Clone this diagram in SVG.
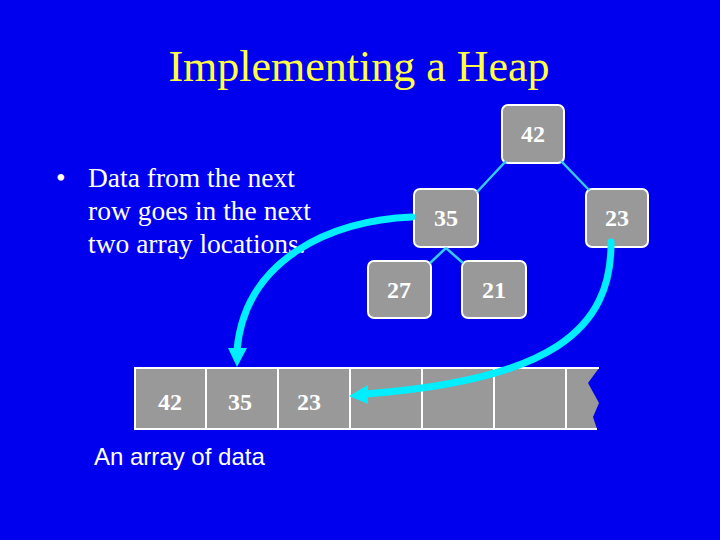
<svg xmlns="http://www.w3.org/2000/svg" width="720" height="540" viewBox="0 0 720 540">
<defs>
<style>
.node rect{fill:#999999;stroke:#ffffff;stroke-width:2}
.val{font-family:"Liberation Serif","Times New Roman",serif;font-size:24px;font-weight:bold;fill:#ffffff;text-anchor:middle}
.edge{stroke:#33ccee;stroke-width:2.5;fill:none}
.arrow{stroke:#00eeff;stroke-width:7;fill:none;stroke-linecap:round}
.body{font-family:"Liberation Serif","Times New Roman",serif;font-size:27.5px;fill:#ffffff}
</style>
</defs>
<rect width="720" height="540" fill="#0000ee"/>
<text x="359" y="81" font-family="Liberation Serif,'Times New Roman',serif" font-size="44" fill="#ffff44" text-anchor="middle">Implementing a Heap</text>
<g id="bullet">
<text class="body" x="56" y="187">•</text>
<text class="body" x="88" y="187">Data from the next</text>
<text class="body" x="88" y="220">row goes in the next</text>
<text class="body" x="88" y="253">two array locations.</text>
</g>
<g id="node42" class="node"><rect x="502" y="105" width="62" height="58" rx="6"/><text class="val" x="533" y="142">42</text></g>
<g id="node35" class="node"><rect x="414" y="189" width="64" height="58" rx="6"/><text class="val" x="446" y="226">35</text></g>
<g id="node23" class="node"><rect x="586" y="189" width="62" height="58" rx="6"/><text class="val" x="617" y="226">23</text></g>
<g id="node27" class="node"><rect x="368" y="261" width="63" height="57" rx="6"/><text class="val" x="399" y="298">27</text></g>
<g id="node21" class="node"><rect x="462" y="261" width="64" height="57" rx="6"/><text class="val" x="494" y="298">21</text></g>
<g id="array">
<polygon points="135,368 599,368 588,383 599,403 593,417 597,429 135,429" fill="#999999"/>
<g stroke="#ffffff" stroke-width="2" fill="none">
<polyline points="599,368 135,368 135,429 597,429"/>
<line x1="206" y1="368" x2="206" y2="429"/>
<line x1="278" y1="368" x2="278" y2="429"/>
<line x1="350" y1="368" x2="350" y2="429"/>
<line x1="422" y1="368" x2="422" y2="429"/>
<line x1="494" y1="368" x2="494" y2="429"/>
<line x1="566" y1="368" x2="566" y2="429"/>
</g>
<text class="val" x="170" y="410">42</text>
<text class="val" x="240" y="410">35</text>
<text class="val" x="309" y="410">23</text>
</g>
<g id="connectors">
<line class="edge" x1="506" y1="161" x2="477" y2="192"/>
<line class="edge" x1="561" y1="161" x2="589" y2="190"/>
<line class="edge" x1="446" y1="248" x2="430" y2="263"/>
<line class="edge" x1="446" y1="248" x2="463" y2="263"/>
<path class="arrow" d="M412 217 C330 220 245 260 237 350"/>
<polygon points="228,348 247,348 237,367" fill="#00eeff"/>
<path class="arrow" d="M611 242 C612 330 550 380 366 394"/>
<polygon points="368,385 368,404 349,396" fill="#00eeff"/>
</g>
<text x="94" y="465" font-family="Liberation Sans,Arial,sans-serif" font-size="24" fill="#ffffff">An array of data</text>
</svg>
